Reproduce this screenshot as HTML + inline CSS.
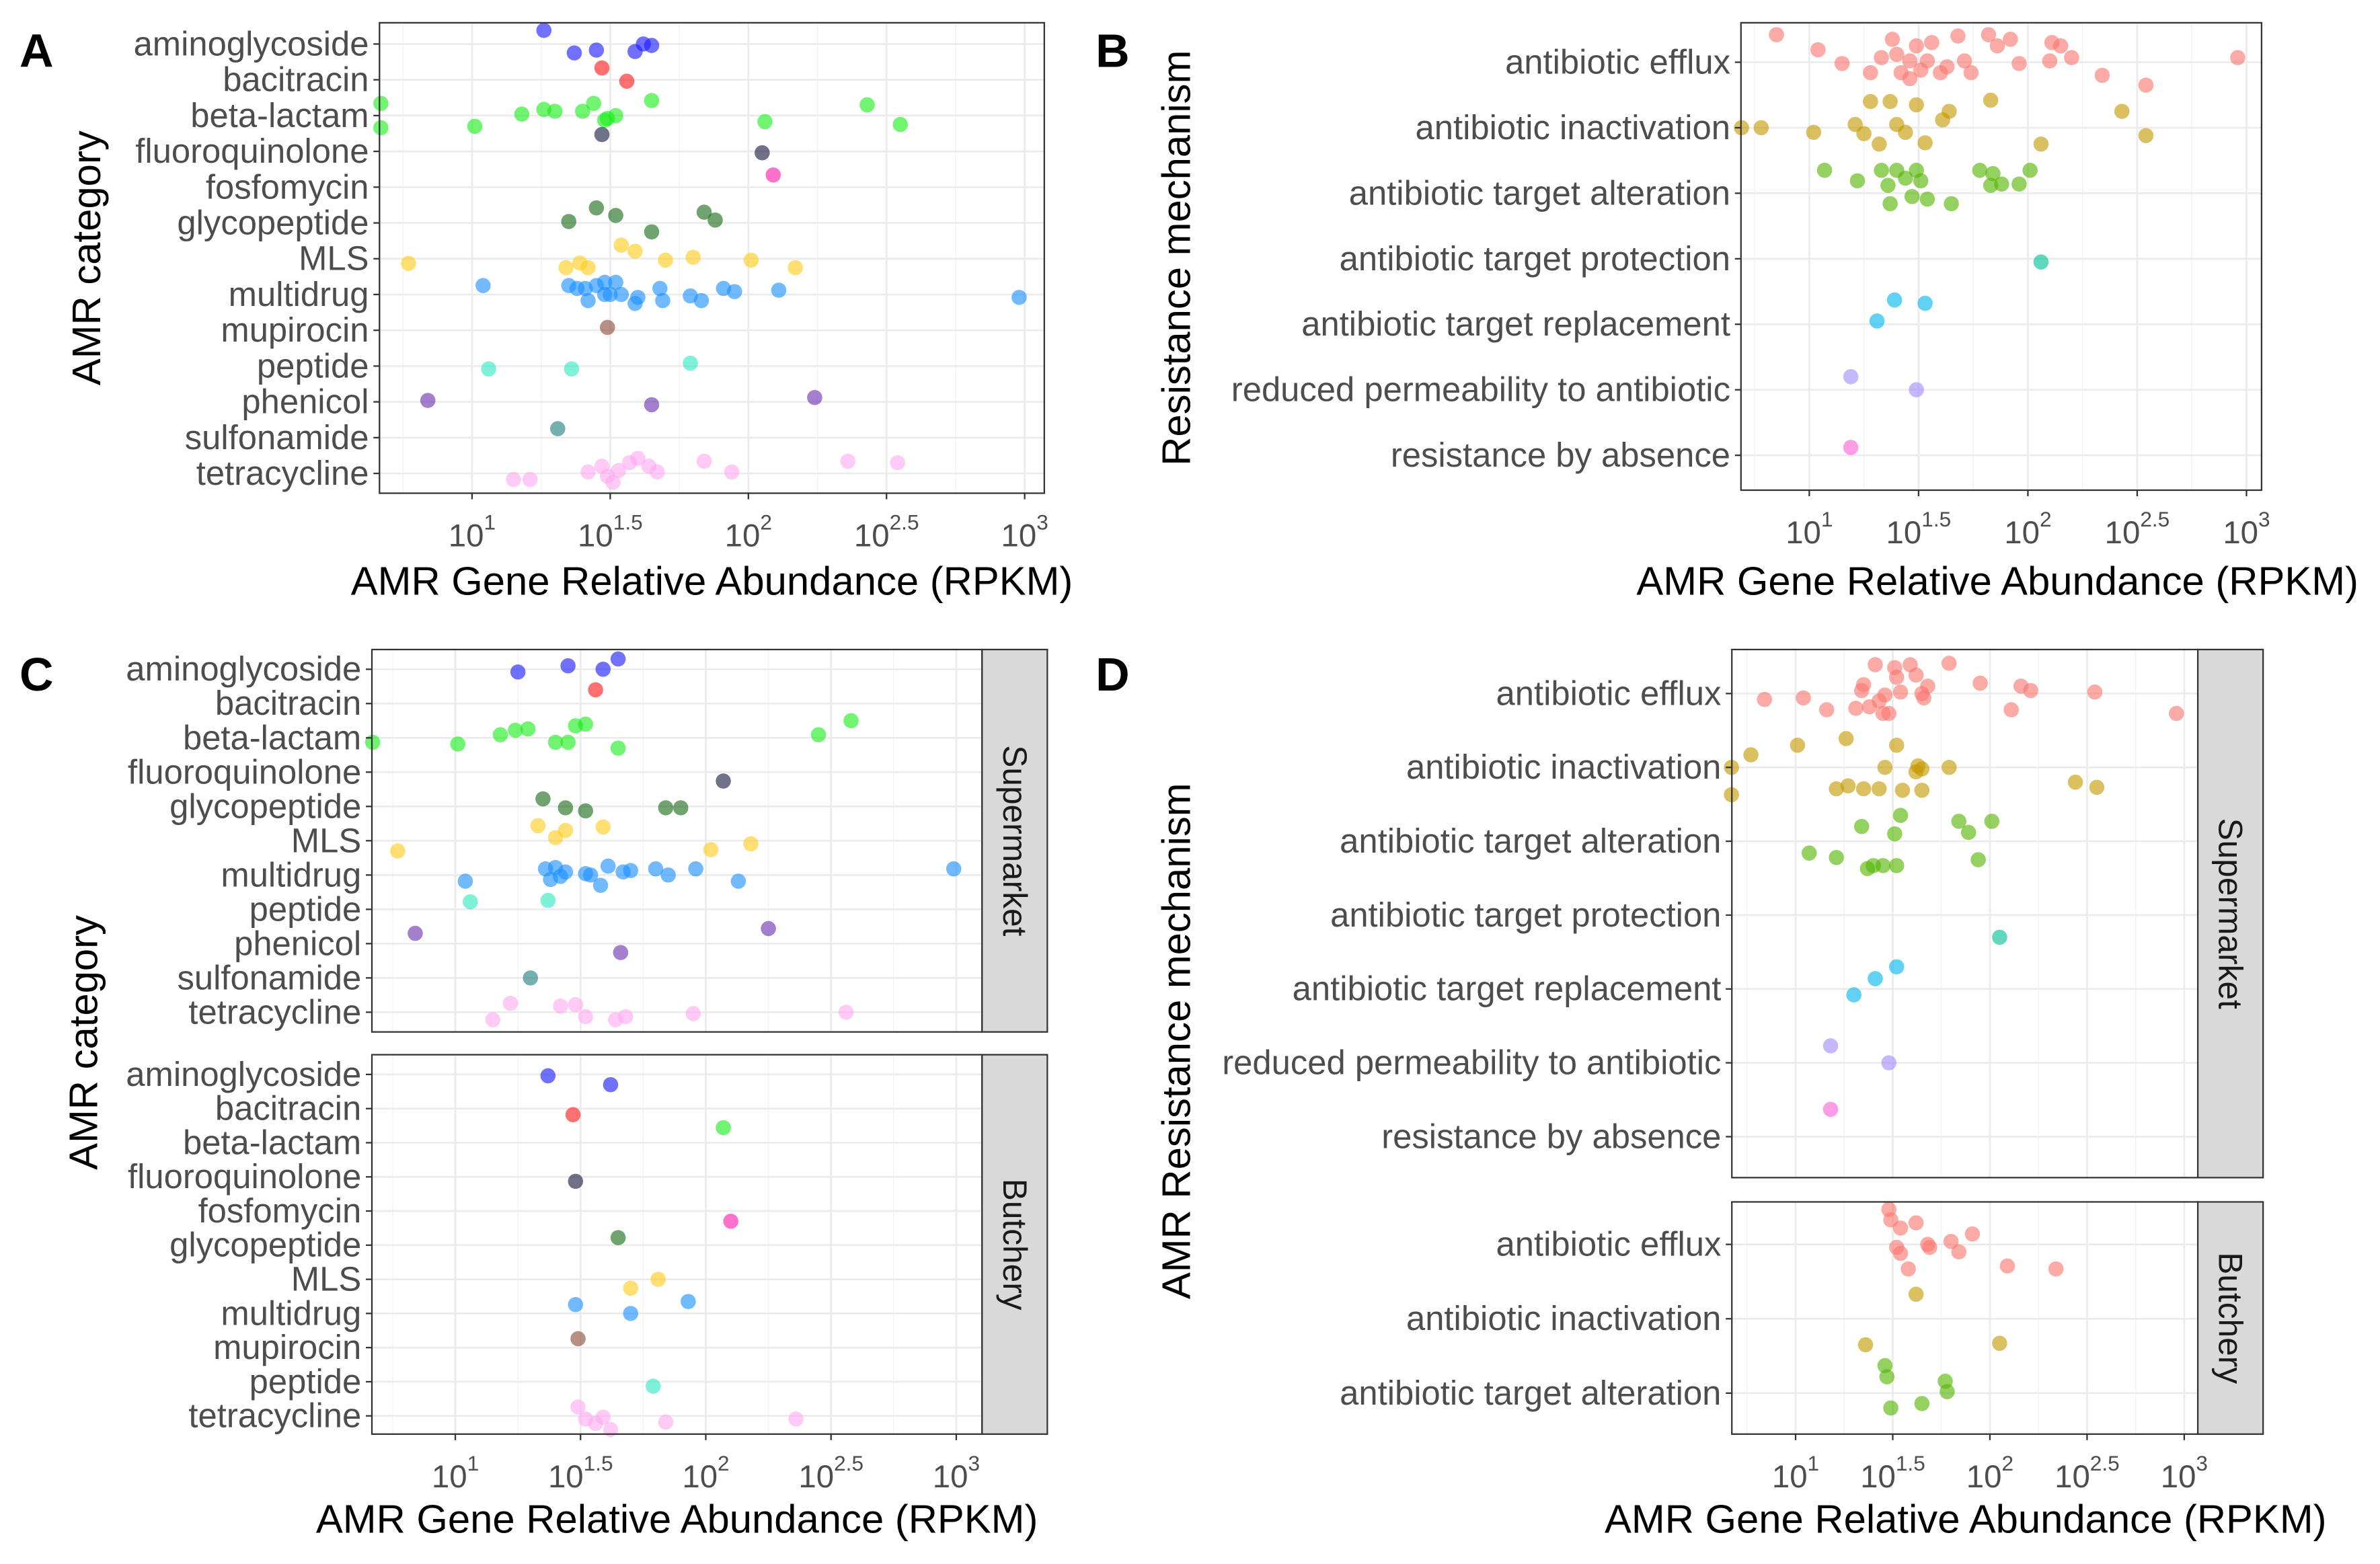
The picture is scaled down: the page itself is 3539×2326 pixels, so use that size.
<!DOCTYPE html>
<html><head><meta charset="utf-8">
<style>
html,body{margin:0;padding:0;background:#fff;}
svg{display:block;}
text{font-family:"Liberation Sans",Arial,sans-serif;}
</style></head>
<body>
<svg id="fig" xmlns="http://www.w3.org/2000/svg" width="3539" height="2326" viewBox="0 0 1568 1030.6">
<rect x="0" y="0" width="1568" height="1030.6" fill="#fff"/>
</svg>
<script>
// ---------- DATA ----------
const catA = ["aminoglycoside","bacitracin","beta-lactam","fluoroquinolone","fosfomycin","glycopeptide","MLS","multidrug","mupirocin","peptide","phenicol","sulfonamide","tetracycline"];
const catCtop = ["aminoglycoside","bacitracin","beta-lactam","fluoroquinolone","glycopeptide","MLS","multidrug","peptide","phenicol","sulfonamide","tetracycline"];
const catCbot = ["aminoglycoside","bacitracin","beta-lactam","fluoroquinolone","fosfomycin","glycopeptide","MLS","multidrug","mupirocin","peptide","tetracycline"];
const mechB = ["antibiotic efflux","antibiotic inactivation","antibiotic target alteration","antibiotic target protection","antibiotic target replacement","reduced permeability to antibiotic","resistance by absence"];
const mechDbot = ["antibiotic efflux","antibiotic inactivation","antibiotic target alteration"];
const xTickExp = [1,1.5,2,2.5,3];
const xTickLabels = [["10","1"],["10","1.5"],["10","2"],["10","2.5"],["10","3"]];
// points: [category, log10(RPKM), vertical jitter (category units)]
const pointsA = [
["aminoglycoside",1.26,-0.38],["aminoglycoside",1.37,0.25],["aminoglycoside",1.45,0.17],["aminoglycoside",1.59,0.21],["aminoglycoside",1.62,0],["aminoglycoside",1.65,0.04],
["bacitracin",1.47,-0.33],["bacitracin",1.56,0.04],
["beta-lactam",0.67,-0.34],["beta-lactam",0.67,0.34],["beta-lactam",1.01,0.3],["beta-lactam",1.18,-0.04],["beta-lactam",1.26,-0.17],["beta-lactam",1.30,-0.12],["beta-lactam",1.40,-0.12],["beta-lactam",1.44,-0.34],["beta-lactam",1.48,0.13],["beta-lactam",1.49,0.08],["beta-lactam",1.52,0],["beta-lactam",1.65,-0.42],["beta-lactam",2.06,0.17],["beta-lactam",2.43,-0.3],["beta-lactam",2.55,0.25],
["fluoroquinolone",1.47,-0.47],["fluoroquinolone",2.05,0.04],
["fosfomycin",2.09,-0.34],
["glycopeptide",1.35,-0.04],["glycopeptide",1.45,-0.42],["glycopeptide",1.52,-0.21],["glycopeptide",1.84,-0.3],["glycopeptide",1.88,-0.08],["glycopeptide",1.65,0.25],
["MLS",0.77,0.13],["MLS",1.34,0.25],["MLS",1.39,0.12],["MLS",1.42,0.25],["MLS",1.54,-0.38],["MLS",1.59,-0.21],["MLS",1.70,0.04],["MLS",1.80,-0.04],["MLS",2.01,0.04],["MLS",2.17,0.25],
["multidrug",1.04,-0.25],["multidrug",1.35,-0.25],["multidrug",1.38,-0.17],["multidrug",1.41,-0.17],["multidrug",1.45,-0.25],["multidrug",1.48,-0.34],["multidrug",1.52,-0.34],["multidrug",1.42,0.17],["multidrug",1.50,0],["multidrug",1.59,0.25],["multidrug",1.60,0.08],["multidrug",1.68,-0.17],["multidrug",1.69,0.17],["multidrug",1.79,0.04],["multidrug",1.83,0.17],["multidrug",1.91,-0.17],["multidrug",1.95,-0.08],["multidrug",2.11,-0.12],["multidrug",2.98,0.08],["multidrug",1.48,0],["multidrug",1.54,0],
["mupirocin",1.49,-0.08],
["peptide",1.06,0.08],["peptide",1.36,0.08],["peptide",1.79,-0.08],
["phenicol",0.84,-0.04],["phenicol",1.65,0.08],["phenicol",2.24,-0.12],
["sulfonamide",1.31,-0.25],
["tetracycline",1.15,0.17],["tetracycline",1.21,0.17],["tetracycline",1.42,-0.04],["tetracycline",1.47,-0.2],["tetracycline",1.49,0.08],["tetracycline",1.51,0.25],["tetracycline",1.53,-0.08],["tetracycline",1.57,-0.3],["tetracycline",1.60,-0.42],["tetracycline",1.64,-0.2],["tetracycline",1.67,-0.04],["tetracycline",1.84,-0.34],["tetracycline",1.94,-0.04],["tetracycline",2.36,-0.34],["tetracycline",2.54,-0.3]
];
const pointsB = [
["antibiotic efflux",0.85,-0.42],["antibiotic efflux",1.04,-0.19],["antibiotic efflux",1.15,0.02],["antibiotic efflux",1.28,0.16],["antibiotic efflux",1.38,-0.35],["antibiotic efflux",1.40,-0.12],["antibiotic efflux",1.42,0.16],["antibiotic efflux",1.46,-0.02],["antibiotic efflux",1.49,-0.25],["antibiotic efflux",1.51,0.12],["antibiotic efflux",1.54,-0.02],["antibiotic efflux",1.56,-0.3],["antibiotic efflux",1.60,0.16],["antibiotic efflux",1.63,0.07],["antibiotic efflux",1.68,-0.4],["antibiotic efflux",1.71,-0.02],["antibiotic efflux",1.74,0.16],["antibiotic efflux",1.82,-0.42],["antibiotic efflux",1.86,-0.25],["antibiotic efflux",1.92,-0.35],["antibiotic efflux",1.96,0.02],["antibiotic efflux",2.10,-0.02],["antibiotic efflux",2.15,-0.25],["antibiotic efflux",2.20,-0.07],["antibiotic efflux",2.34,0.2],["antibiotic efflux",2.54,0.35],["antibiotic efflux",2.96,-0.07],["antibiotic efflux",2.11,-0.3],["antibiotic efflux",1.46,0.25],["antibiotic efflux",1.33,-0.07],
["antibiotic inactivation",0.69,0],["antibiotic inactivation",0.78,0],["antibiotic inactivation",1.02,0.07],["antibiotic inactivation",1.21,-0.05],["antibiotic inactivation",1.25,0.09],["antibiotic inactivation",1.28,-0.4],["antibiotic inactivation",1.37,-0.4],["antibiotic inactivation",1.32,0.25],["antibiotic inactivation",1.40,-0.05],["antibiotic inactivation",1.49,-0.35],["antibiotic inactivation",1.53,0.23],["antibiotic inactivation",1.61,-0.12],["antibiotic inactivation",1.64,-0.25],["antibiotic inactivation",1.83,-0.42],["antibiotic inactivation",2.06,0.25],["antibiotic inactivation",2.43,-0.25],["antibiotic inactivation",2.54,0.12],["antibiotic inactivation",1.44,0.07],
["antibiotic target alteration",1.07,-0.35],["antibiotic target alteration",1.22,-0.19],["antibiotic target alteration",1.33,-0.35],["antibiotic target alteration",1.36,-0.12],["antibiotic target alteration",1.40,-0.35],["antibiotic target alteration",1.44,-0.23],["antibiotic target alteration",1.49,-0.35],["antibiotic target alteration",1.51,-0.19],["antibiotic target alteration",1.37,0.16],["antibiotic target alteration",1.47,0.05],["antibiotic target alteration",1.54,0.09],["antibiotic target alteration",1.65,0.16],["antibiotic target alteration",1.78,-0.35],["antibiotic target alteration",1.83,-0.12],["antibiotic target alteration",1.88,-0.14],["antibiotic target alteration",1.96,-0.14],["antibiotic target alteration",2.01,-0.35],["antibiotic target alteration",1.84,-0.3],
["antibiotic target protection",2.06,0.05],
["antibiotic target replacement",1.39,-0.37],["antibiotic target replacement",1.53,-0.32],["antibiotic target replacement",1.31,-0.05],
["reduced permeability to antibiotic",1.19,-0.2],["reduced permeability to antibiotic",1.49,0],
["resistance by absence",1.19,-0.12]
];
const pointsCtop = [
["aminoglycoside",1.25,0.08],["aminoglycoside",1.45,-0.1],["aminoglycoside",1.59,0],["aminoglycoside",1.65,-0.3],
["bacitracin",1.56,-0.4],
["beta-lactam",0.67,0.13],["beta-lactam",1.01,0.18],["beta-lactam",1.18,-0.09],["beta-lactam",1.24,-0.22],["beta-lactam",1.29,-0.26],["beta-lactam",1.40,0.13],["beta-lactam",1.45,0.13],["beta-lactam",1.48,-0.35],["beta-lactam",1.52,-0.4],["beta-lactam",1.65,0.3],["beta-lactam",2.45,-0.09],["beta-lactam",2.58,-0.5],
["fluoroquinolone",2.07,0.26],
["glycopeptide",1.35,-0.22],["glycopeptide",1.44,0.04],["glycopeptide",1.52,0.13],["glycopeptide",1.84,0.04],["glycopeptide",1.90,0.04],
["MLS",0.77,0.3],["MLS",1.33,-0.44],["MLS",1.40,-0.09],["MLS",1.44,-0.3],["MLS",1.59,-0.4],["MLS",2.02,0.26],["MLS",2.18,0.09],
["multidrug",1.04,0.18],["multidrug",1.36,-0.18],["multidrug",1.40,-0.22],["multidrug",1.44,-0.09],["multidrug",1.52,-0.04],["multidrug",1.54,0],["multidrug",1.61,-0.26],["multidrug",1.67,-0.09],["multidrug",1.70,-0.13],["multidrug",1.80,-0.18],["multidrug",1.85,0],["multidrug",1.96,-0.18],["multidrug",2.13,0.18],["multidrug",2.99,-0.18],["multidrug",1.38,0.13],["multidrug",1.42,0.04],["multidrug",1.58,0.3],
["peptide",1.06,-0.22],["peptide",1.37,-0.26],
["phenicol",0.84,-0.3],["phenicol",1.66,0.26],["phenicol",2.25,-0.44],
["sulfonamide",1.30,0],
["tetracycline",1.15,0.22],["tetracycline",1.22,-0.26],["tetracycline",1.42,-0.18],["tetracycline",1.48,-0.22],["tetracycline",1.52,0.13],["tetracycline",1.64,0.22],["tetracycline",1.68,0.13],["tetracycline",1.95,0.04],["tetracycline",2.56,0]
];
const pointsCbot = [
["aminoglycoside",1.37,0.04],["aminoglycoside",1.62,0.3],
["bacitracin",1.47,0.18],
["beta-lactam",2.07,-0.44],
["fluoroquinolone",1.48,0.13],
["fosfomycin",2.10,0.3],
["glycopeptide",1.65,-0.22],
["MLS",1.70,0.26],["MLS",1.81,0],
["multidrug",1.48,-0.26],["multidrug",1.70,0],["multidrug",1.93,-0.35],
["mupirocin",1.49,-0.26],
["peptide",1.79,0.13],
["tetracycline",1.49,-0.26],["tetracycline",1.52,0.09],["tetracycline",1.56,0.22],["tetracycline",1.59,0.04],["tetracycline",1.62,0.4],["tetracycline",1.84,0.18],["tetracycline",2.36,0.09]
];
const pointsDtop = [
["antibiotic efflux",0.84,0.08],["antibiotic efflux",1.04,0.06],["antibiotic efflux",1.16,0.22],["antibiotic efflux",1.31,0.2],["antibiotic efflux",1.34,-0.04],["antibiotic efflux",1.35,-0.12],["antibiotic efflux",1.38,0.18],["antibiotic efflux",1.41,-0.39],["antibiotic efflux",1.45,0.27],["antibiotic efflux",1.46,0.02],["antibiotic efflux",1.51,-0.35],["antibiotic efflux",1.54,-0.02],["antibiotic efflux",1.52,-0.22],["antibiotic efflux",1.59,-0.39],["antibiotic efflux",1.62,-0.25],["antibiotic efflux",1.65,0],["antibiotic efflux",1.66,0.06],["antibiotic efflux",1.68,-0.1],["antibiotic efflux",1.79,-0.41],["antibiotic efflux",1.95,-0.14],["antibiotic efflux",2.11,0.22],["antibiotic efflux",2.16,-0.1],["antibiotic efflux",2.21,-0.04],["antibiotic efflux",2.54,-0.02],["antibiotic efflux",2.96,0.27],["antibiotic efflux",1.43,0.1],["antibiotic efflux",1.48,0.27],
["antibiotic inactivation",0.67,0],["antibiotic inactivation",0.67,0.37],["antibiotic inactivation",0.77,-0.17],["antibiotic inactivation",1.01,-0.3],["antibiotic inactivation",1.26,-0.39],["antibiotic inactivation",1.21,0.29],["antibiotic inactivation",1.27,0.25],["antibiotic inactivation",1.43,0.29],["antibiotic inactivation",1.46,0],["antibiotic inactivation",1.52,-0.3],["antibiotic inactivation",1.63,-0.02],["antibiotic inactivation",1.62,0.06],["antibiotic inactivation",1.65,0.02],["antibiotic inactivation",1.79,0],["antibiotic inactivation",1.35,0.29],["antibiotic inactivation",1.55,0.31],["antibiotic inactivation",1.65,0.31],["antibiotic inactivation",2.44,0.2],["antibiotic inactivation",2.55,0.27],
["antibiotic target alteration",1.07,0.16],["antibiotic target alteration",1.21,0.22],["antibiotic target alteration",1.34,-0.2],["antibiotic target alteration",1.37,0.37],["antibiotic target alteration",1.40,0.33],["antibiotic target alteration",1.45,0.33],["antibiotic target alteration",1.52,0.33],["antibiotic target alteration",1.54,-0.35],["antibiotic target alteration",1.51,-0.1],["antibiotic target alteration",1.84,-0.27],["antibiotic target alteration",1.89,-0.12],["antibiotic target alteration",2.01,-0.27],["antibiotic target alteration",1.94,0.25],
["antibiotic target protection",2.05,0.3],
["antibiotic target replacement",1.52,-0.3],["antibiotic target replacement",1.41,-0.14],["antibiotic target replacement",1.30,0.08],
["reduced permeability to antibiotic",1.18,-0.23],["reduced permeability to antibiotic",1.48,0],
["resistance by absence",1.18,-0.37]
];
const pointsDbot = [
["antibiotic efflux",1.48,-0.47],["antibiotic efflux",1.49,-0.33],["antibiotic efflux",1.54,-0.22],["antibiotic efflux",1.52,0.04],["antibiotic efflux",1.54,0.12],["antibiotic efflux",1.68,0],["antibiotic efflux",1.69,0.04],["antibiotic efflux",1.58,0.33],["antibiotic efflux",1.80,-0.04],["antibiotic efflux",1.84,0.1],["antibiotic efflux",1.91,-0.14],["antibiotic efflux",1.62,-0.29],["antibiotic efflux",2.09,0.29],["antibiotic efflux",2.34,0.33],
["antibiotic inactivation",1.62,-0.33],["antibiotic inactivation",1.36,0.35],["antibiotic inactivation",2.05,0.33],
["antibiotic target alteration",1.46,-0.37],["antibiotic target alteration",1.47,-0.22],["antibiotic target alteration",1.77,-0.16],["antibiotic target alteration",1.78,-0.02],["antibiotic target alteration",1.49,0.2],["antibiotic target alteration",1.65,0.14]
];
const amrColors = {"aminoglycoside":"#1a1aff","bacitracin":"#ff1a1a","beta-lactam":"#1aee1a","fluoroquinolone":"#1a1a40","fosfomycin":"#ff1aaa","glycopeptide":"#1a6a1a","MLS":"#ffcc1a","multidrug":"#1a8fff","mupirocin":"#8b4a3a","peptide":"#30e8c0","phenicol":"#6a30b0","sulfonamide":"#208080","tetracycline":"#ffaaf0"};
const mechColors = {"antibiotic efflux":"#F8766D","antibiotic inactivation":"#C49A00","antibiotic target alteration":"#53B400","antibiotic target protection":"#00C094","antibiotic target replacement":"#00B6EB","reduced permeability to antibiotic":"#A58AFF","resistance by absence":"#FB61D7"};

// ---------- DRAW ----------
const NS = "http://www.w3.org/2000/svg";
const svg = document.getElementById("fig");
function mk(tag, attrs, parent, txt){
  const e = document.createElementNS(NS, tag);
  for (const k in attrs) e.setAttribute(k, attrs[k]);
  if (txt !== undefined) e.textContent = txt;
  (parent || svg).appendChild(e);
  return e;
}
function facet(o){
  const g = mk("g", {});
  
  
  const xs = L => o.x0 + (L - o.dom[0]) / (o.dom[1] - o.dom[0]) * (o.x1 - o.x0);
  const ys = i => o.yFirst + i * o.step;
  mk("rect", {x:o.x0, y:o.y0, width:o.x1-o.x0, height:o.y1-o.y0, fill:"#fff"}, g);
  for (let L = 0.75; L <= 3.25; L += 0.5){
    const x = xs(L); if (x <= o.x0 || x >= o.x1) continue;
    mk("line", {x1:x, x2:x, y1:o.y0, y2:o.y1, stroke:"#f2f2f2", "stroke-width":0.6}, g);
  }
  xTickExp.forEach(L => { const x = xs(L);
    mk("line", {x1:x, x2:x, y1:o.y0, y2:o.y1, stroke:"#ebebeb", "stroke-width":1.2}, g); });
  o.cats.forEach((c,i) => mk("line", {x1:o.x0, x2:o.x1, y1:ys(i), y2:ys(i), stroke:"#ebebeb", "stroke-width":1.2}, g));
  o.points.forEach(p => {
    const i = o.cats.indexOf(p[0]);
    const c = mk("circle", {cx:xs(p[1]), cy:ys(i + p[2]), r:5, fill:o.colors[p[0]], "fill-opacity":0.62}, g);
    
    
  });
  mk("rect", {x:o.x0, y:o.y0, width:o.x1-o.x0, height:o.y1-o.y0, fill:"none", stroke:"#333", "stroke-width":1}, g);
  o.cats.forEach((c,i) => {
    mk("line", {x1:o.x0-4, x2:o.x0, y1:ys(i), y2:ys(i), stroke:"#333", "stroke-width":1}, g);
    const t = mk("text", {x:o.x0-7, y:ys(i)+7.5, "text-anchor":"end", "font-size":o.fs||22.5, fill:"#4d4d4d"}, g, c);
    
    
  });
  if (o.ticks){
    xTickExp.forEach((L,k) => { const x = xs(L);
      mk("line", {x1:x, x2:x, y1:o.y1, y2:o.y1+4, stroke:"#333", "stroke-width":1}, g);
      const t = mk("text", {x:x, y:o.y1+35, "text-anchor":"middle", "font-size":21, fill:"#4d4d4d"}, g);
      
      
      mk("tspan", {}, t, xTickLabels[k][0]);
      mk("tspan", {"font-size":14, dy:-11}, t, xTickLabels[k][1]);
    });
  }
  if (o.strip){
    const sx = o.x1, sw = 43;
    mk("rect", {x:sx, y:o.y0, width:sw, height:o.y1-o.y0, fill:"#d9d9d9", stroke:"#333", "stroke-width":1}, g);
    const cy = (o.y0+o.y1)/2, cx = sx + sw/2;
    const t = mk("text", {x:cx, y:cy, "text-anchor":"middle", "dominant-baseline":"central", "font-size":22, fill:"#1a1a1a", transform:`rotate(90 ${cx} ${cy})`}, g, o.strip);
    
    
  }
}
function label(x,y,txt,size,weight,rot,name,anchor){
  const t = mk("text", {x:x, y:y, "font-size":size, "font-weight":weight||"normal", fill:"#000", "text-anchor":anchor||"middle"}, svg, txt);
  if (rot) { t.setAttribute("transform", `rotate(-90 ${x} ${y})`); t.setAttribute("dominant-baseline","central"); }
  
  
}

facet({name:"panel-a-plot", x0:250, x1:688, y0:15, y1:325, dom:[0.665,3.071], cats:catA, yFirst:29, step:23.58, points:pointsA, colors:amrColors, ticks:true});
facet({name:"panel-b-plot", x0:1147, x1:1490, y0:15, y1:323, dom:[0.6875,3.069], cats:mechB, yFirst:41, step:43.17, points:pointsB, colors:mechColors, ticks:true});
facet({name:"panel-c-supermarket", x0:245, x1:647, y0:428, y1:680, dom:[0.667,3.103], cats:catCtop, yFirst:441, step:22.6, points:pointsCtop, colors:amrColors, ticks:false, strip:"Supermarket"});
facet({name:"panel-c-butchery", x0:245, x1:647, y0:695, y1:945, dom:[0.667,3.103], cats:catCbot, yFirst:708, step:22.5, points:pointsCbot, colors:amrColors, ticks:true, strip:"Butchery"});
facet({name:"panel-d-supermarket", x0:1141, x1:1448, y0:428, y1:776, dom:[0.672,3.07], cats:mechB, yFirst:457, step:48.67, points:pointsDtop, colors:mechColors, ticks:false, strip:"Supermarket"});
facet({name:"panel-d-butchery", x0:1141, x1:1448, y0:792, y1:945, dom:[0.672,3.07], cats:mechDbot, yFirst:820, step:49, points:pointsDbot, colors:mechColors, ticks:true, strip:"Butchery"});

label(469,392,"AMR Gene Relative Abundance (RPKM)",26.5,"normal",false,"x-axis-title-a");
label(1316,392,"AMR Gene Relative Abundance (RPKM)",26.5,"normal",false,"x-axis-title-b");
label(446,1010,"AMR Gene Relative Abundance (RPKM)",26.5,"normal",false,"x-axis-title-c");
label(1295,1010,"AMR Gene Relative Abundance (RPKM)",26.5,"normal",false,"x-axis-title-d");
label(57,170,"AMR category",26.5,"normal",true,"y-axis-title-a");
label(775,170,"Resistance mechanism",26.5,"normal",true,"y-axis-title-b");
label(55,687,"AMR category",26.5,"normal",true,"y-axis-title-c");
label(775,686,"AMR Resistance mechanism",26.5,"normal",true,"y-axis-title-d");
label(24,44,"A",31,"bold",false,"panel-label-a");
label(733,44,"B",31,"bold",false,"panel-label-b");
label(24,455,"C",31,"bold",false,"panel-label-c");
label(733,455,"D",31,"bold",false,"panel-label-d");
</script>
</body></html>
